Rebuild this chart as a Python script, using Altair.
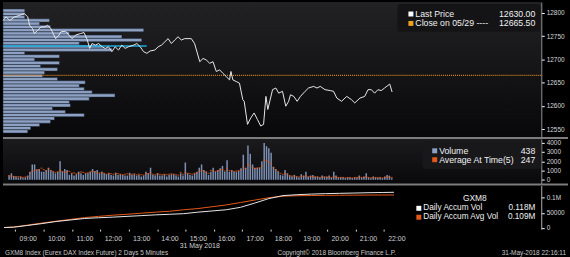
import altair as alt
import pandas as pd

FONT = "Liberation Sans"

# ---------------- data ----------------
price_times = ["08:08","08:14","08:22","08:32","08:43","08:53","09:00","09:04","09:10","09:14",
               "09:21","09:28","09:35","09:42","09:49","09:52","09:59","10:06","10:10","10:20",
               "10:27","10:34","10:41","10:52","10:59","11:06","11:11","11:16","11:23","11:30",
               "11:37","11:44","11:51","11:58","12:05","12:12","12:19","12:26","12:33","12:44",
               "12:51","12:58","13:05","13:12","13:19","13:29","13:36","13:43","13:50","13:57",
               "14:04","14:11","14:18","14:25","14:32","14:39","14:46","14:53","15:04","15:11",
               "15:18","15:25","15:32","15:39","15:46","15:53","16:00","16:07","16:10","16:14",
               "16:21","16:28","16:35","16:38","16:45","16:52","16:59","17:06","17:13","17:19",
               "17:24","17:28","17:38","17:45","17:51","17:59","18:06","18:12","18:16","18:23",
               "18:30","18:37","18:47","18:54","19:05","19:12","19:19","19:29","19:40","19:47",
               "19:54","20:04","20:15","20:25","20:32","20:43","20:53","21:00","21:07","21:14",
               "21:21","21:28","21:35","21:46","21:51"]
price_values = [12783.5,12791.0,12783.5,12791.0,12794.5,12798.0,12791.0,12773.0,12766.0,12755.5,
                12762.5,12769.5,12769.5,12773.0,12766.0,12759.0,12744.5,12752.0,12759.0,12760.5,
                12752.0,12744.5,12752.0,12755.5,12757.5,12741.5,12723.5,12734.0,12730.5,12734.0,
                12727.0,12723.5,12727.0,12716.5,12727.0,12720.0,12730.5,12723.5,12727.0,12730.5,
                12734.0,12727.0,12716.5,12713.0,12718.0,12720.0,12727.0,12730.5,12737.5,12744.5,
                12734.0,12741.5,12748.5,12741.5,12744.5,12744.5,12744.5,12734.0,12695.0,12702.0,
                12698.5,12691.5,12695.0,12674.0,12677.5,12670.0,12663.0,12656.0,12674.0,12656.0,
                12652.5,12649.0,12613.5,12610.0,12560.5,12574.5,12585.0,12571.0,12557.0,12560.5,
                12620.5,12592.5,12635.0,12638.5,12627.5,12631.5,12599.5,12610.0,12624.0,12620.5,
                12610.0,12620.5,12631.5,12638.5,12642.0,12638.5,12642.0,12635.0,12633.0,12631.5,
                12617.0,12610.0,12620.5,12613.5,12606.5,12617.0,12620.5,12635.0,12635.0,12627.5,
                12635.0,12633.0,12638.5,12647.0,12630.0]
last_price = 12630.00
prev_close = 12665.50

volume_first_bar = "08:10"
volume_values = [460,700,420,350,250,350,180,250,460,880,
                 1650,1650,1050,1160,880,880,1050,1300,1050,880,
                 700,880,2000,880,1160,1050,530,700,460,600,
                 880,700,530,700,700,880,1160,950,1050,700,
                 880,700,
                 600,700,530,460,770,530,600,530,460,460,
                 770,530,600,460,530,350,460,880,700,1300,
                 530,460,700,460,460,600,350,530,600,600,
                 460,350,700,460,1860,700,530,460,700,880,
                 1300,1650,
                 1050,880,530,880,1300,880,1050,1230,1500,880,
                 2100,880,1050,880,880,950,1230,2700,1300,3680,
                 2800,1650,1300,1300,1300,2000,3960,3610,3400,2900,
                 1400,1160,880,530,460,1050,700,460,350,530,
                 350,250,
                 600,460,880,350,460,530,350,350,250,460,
                 350,350,460,250,880,460,250,250,250,180,
                 250,250,180,250,250,460,250,350,700,250,
                 180,350,250,250,250,180,350,530,438,180]
avg_at_time_values = [450,400,350,300,350,300,250,300,350,
                      700,900,1000,1100,1050,1250,1100,950,1200,1000,900,800,
                      850,1000,900,800,850,900,700,750,650,700,850,800,700,750,850,900,850,700,750,800,700,
                      600,700,650,600,700,650,600,550,600,650,550,600,650,550,600,550,500,700,650,750,
                      600,550,650,600,550,600,550,600,650,600,550,500,800,600,750,700,650,600,700,750,
                      900,1000,
                      900,850,700,1000,950,900,1000,1050,1100,950,1200,1000,950,900,950,1000,1100,1400,1200,1600,
                      1500,1300,1200,1250,1300,1500,2100,2000,1900,1700,1300,1100,900,700,600,700,600,450,400,400,
                      350,300,
                      400,350,450,300,350,350,300,300,250,300,300,250,300,250,350,300,250,250,250,200,
                      250,250,200,250,250,300,250,250,350,250,200,250,250,200,250,200,250,300,300,247]

accum_times = ["08:10","08:30","09:00","09:30","10:00","10:30","11:00","11:30","12:00","12:30",
               "13:00","13:30","14:00","14:30","15:00","15:30","16:00","16:30","17:00","17:30",
               "18:00","18:30","19:00","19:30","20:00","20:30","21:00","21:30","21:55"]
accum_vol = [1000,2000,8000,14000,21000,26000,31000,33500,35500,38000,
             40500,43000,45000,47000,52000,56000,60000,68000,82000,97000,
             107000,110000,112000,113500,114500,115500,116500,117300,118000]
accum_avg_vol = [1000,3000,9000,16000,22000,28000,34000,38000,42000,45000,
                 48500,52000,55000,60000,64000,70000,76000,84000,92000,100000,
                 105000,106500,107200,107800,108200,108500,108800,109000,109000]

vap_bin_top = [12808,12801,12794,12787,12780,12773,12766,12759,12752,12745,
               12738,12731,12724,12717,12710,12703,12696,12689,12682,12675,
               12668,12661,12654,12647,12640,12633,12626,12619,12612,12605,
               12598,12591,12584,12577,12570,12563,12556,12549]
vap_volume = [440,440,440,940,740,960,2840,1340,2400,2800,
              1540,2000,2200,440,1140,640,1140,760,1100,840,
              800,1100,1660,1540,1640,1800,2260,1740,1340,1360,
              1000,1260,1640,1040,960,740,560,500]
vap_bin_size = 7
vap_highlight_price = 12728.5
vap_highlight_volume = 2900

hour_ticks = list(range(9, 23))
price_ticks = [12550, 12600, 12650, 12700, 12750, 12800]
volume_ticks = [0, 1000, 2000, 3000, 4000]
accum_ticks = [0, 50000, 100000]

top_legend = [("Last Price", "12630.00"), ("Close on 05/29 ----", "12665.50")]
vol_legend = [("Volume", "438"), ("Average At Time(5)", "247")]
acc_title = "GXM8"
acc_legend = [("Daily Accum Vol", "0.118M"), ("Daily Accum Avg Vol", "0.109M")]
date_label = "31 May 2018"
footer_left = "GXM8 Index (Eurex DAX Index Future) 2 Days 5 Minutes"
footer_mid = "Copyright\u00a9 2018 Bloomberg Finance L.P."
footer_right = "31-May-2018 22:16:11"

# ---------------- helpers ----------------
def to_h(s):
    hh, mm = s.split(":")
    return int(hh) + int(mm) / 60.0

W = 543
TOP_H, VOL_H, ACC_H = 136, 45, 44
XDOM = [8.126, 27.11]
xscale = alt.Scale(domain=XDOM, nice=False, zero=False)

WHITE = "#e8e8e8"
ORANGE = "#e5581a"
BLUE = "#8da1c3"
TXT = "#f0f0f0"

one = pd.DataFrame({"a": [0]})

def txt(text, x, y, align="left", size=8.8, color=TXT):
    return alt.Chart(pd.DataFrame({"t": [text]})).mark_text(
        align=align, baseline="middle", fontSize=size, font=FONT, color=color
    ).encode(text="t:N", x=alt.value(x), y=alt.value(y))

def box(x, x2, y, y2, color, radius=0):
    return alt.Chart(one).mark_rect(color=color, cornerRadius=radius).encode(
        x=alt.value(x), x2=alt.value(x2), y=alt.value(y), y2=alt.value(y2))

def right_axis(values, expr=None):
    kw = dict(orient="right", values=values, title=None, grid=False, tickSize=3,
              tickColor="#ffffff", domainColor="#b0b0b0", labelColor="#d8d8d8",
              labelFontSize=6.5, labelFont=FONT, labelPadding=2, labelOverlap=False)
    if expr:
        kw["labelExpr"] = expr
    else:
        kw["format"] = "d"
    return alt.Axis(**kw)

def bg(h, c1, c2):
    grad = alt.Gradient(gradient="linear",
                        stops=[alt.GradientStop(color=c1, offset=0), alt.GradientStop(color=c2, offset=1)],
                        x1=0, x2=0, y1=0, y2=1)
    return alt.Chart(one).mark_rect(color=grad).encode(
        x=alt.value(0), x2=alt.value(W), y=alt.value(0), y2=alt.value(h))

def separator():
    return alt.Chart(one).mark_rule(color="#7d7d7d", strokeWidth=2).encode(
        x=alt.value(0), x2=alt.value(570), y=alt.value(-1))

# ---------------- top panel ----------------
price_df = pd.DataFrame({"h": [to_h(t) for t in price_times], "price": price_values})
vap_df = pd.DataFrame({"top": vap_bin_top, "vol": vap_volume})
vap_df["bottom"] = vap_df["top"] - vap_bin_size
vap_df["base"] = 0
hl_df = pd.DataFrame({"price": [vap_highlight_price], "base": [0], "vol": [vap_highlight_volume]})
close_df = pd.DataFrame({"price": [prev_close]})

pscale = alt.Scale(domain=[12533.6, 12822.8], nice=False, zero=False)
paxis = right_axis(price_ticks)
vapscale = alt.Scale(domain=[0, 10860], nice=False, zero=False)

vap_bars = alt.Chart(vap_df).mark_rect(color=BLUE, stroke="#1a2130", strokeWidth=0.5).encode(
    x=alt.X("base:Q", scale=vapscale, axis=None), x2="vol:Q",
    y=alt.Y("top:Q", scale=pscale, axis=paxis), y2="bottom:Q")
vap_hl = alt.Chart(hl_df).mark_rule(color="#1aa9dc", strokeWidth=1.5).encode(
    x=alt.X("base:Q", scale=vapscale, axis=None), x2="vol:Q",
    y=alt.Y("price:Q", scale=pscale, axis=paxis))
vap_layer = alt.layer(vap_bars, vap_hl)

close_rule = alt.Chart(close_df).mark_rule(color="#d8891f", strokeWidth=1.2, strokeDash=[1, 1]).encode(
    y=alt.Y("price:Q", scale=pscale, axis=paxis))
price_line = alt.Chart(price_df).mark_line(color=WHITE, strokeWidth=1).encode(
    x=alt.X("h:Q", scale=xscale, axis=None),
    y=alt.Y("price:Q", scale=pscale, axis=paxis))

top_leg = [box(398, 542, 2, 30, "#141416", 3),
           box(409, 414, 9.5, 14.5, "#ffffff"), box(409, 414, 19, 24, "#f0a020"),
           txt(top_legend[0][0], 416, 12), txt(top_legend[0][1], 537, 12, "right"),
           txt(top_legend[1][0], 416, 21.5), txt(top_legend[1][1], 537, 21.5, "right")]

top = alt.layer(bg(TOP_H, "#222225", "#08080a"), vap_layer, close_rule, price_line, *top_leg).resolve_scale(
    x="independent").properties(width=W, height=TOP_H)

# ---------------- volume panel ----------------
n = len(volume_values)
t0 = to_h(volume_first_bar)
vol_df = pd.DataFrame({"h": [t0 + 5 * k / 60.0 for k in range(n)],
                       "vol": volume_values, "avg": avg_at_time_values})
vscale = alt.Scale(domain=[-400, 4400], nice=False, zero=False)
vaxis = right_axis(volume_ticks)

vol_bars = alt.Chart(vol_df).mark_bar(size=1.5, color="#7d91b5").encode(
    x=alt.X("h:Q", scale=xscale, axis=None),
    y=alt.Y("vol:Q", scale=vscale, axis=vaxis))
avg_ticks = alt.Chart(vol_df).mark_tick(orient="horizontal", color=ORANGE, size=2, thickness=1.2).encode(
    x=alt.X("h:Q", scale=xscale, axis=None),
    y=alt.Y("avg:Q", scale=vscale, axis=vaxis))

vol_leg = [box(423, 543, 2, 30, "#18181b", 3),
           box(433, 438, 9.5, 14.5, BLUE), box(433, 438, 18.5, 23.5, ORANGE),
           txt(vol_legend[0][0], 440, 12), txt(vol_legend[0][1], 537, 12, "right"),
           txt(vol_legend[1][0], 440, 21), txt(vol_legend[1][1], 537, 21, "right")]

vol = alt.layer(bg(VOL_H, "#1b1b1e", "#09090b"), separator(), vol_bars, avg_ticks, *vol_leg).properties(
    width=W, height=VOL_H)

# ---------------- accumulated volume panel ----------------
acc_df = pd.DataFrame({"h": [to_h(t) for t in accum_times], "vol": accum_vol, "avg": accum_avg_vol})
ascale = alt.Scale(domain=[-4300, 140500], nice=False, zero=False)
aaxis = right_axis(accum_ticks, "datum.value == 100000 ? '0.1M' : format(datum.value, 'd')")
xaxis = alt.Axis(values=hour_ticks,
                 labelExpr="(datum.value < 10 ? '0' : '') + datum.value + ':00'",
                 tickOffset=-12.5, labelOffset=12.5, domain=False, grid=False,
                 tickSize=2, tickColor="#dddddd", labelColor="#d0d0d0", labelFontSize=7,
                 labelFont=FONT, labelPadding=3, labelOverlap=False, labelFlush=False,
                 title=date_label, titleX=198, titleY=13, titleFontSize=7, titleFont=FONT,
                 titleFontWeight="normal", titleColor="#d0d0d0")

acc_avg_line = alt.Chart(acc_df).mark_line(color=ORANGE, strokeWidth=1).encode(
    x=alt.X("h:Q", scale=xscale, axis=xaxis),
    y=alt.Y("avg:Q", scale=ascale, axis=aaxis))
acc_line = alt.Chart(acc_df).mark_line(color=WHITE, strokeWidth=1).encode(
    x=alt.X("h:Q", scale=xscale, axis=xaxis),
    y=alt.Y("vol:Q", scale=ascale, axis=aaxis))

acc_leg = [txt(acc_title, 476, 13, "center", 8.5),
           box(417, 422, 20.5, 25.5, "#ffffff"), box(417, 422, 29.5, 34.5, ORANGE),
           txt(acc_legend[0][0], 424, 23, size=8.3), txt(acc_legend[0][1], 537, 23, "right", 8.3),
           txt(acc_legend[1][0], 424, 32, size=8.3), txt(acc_legend[1][1], 537, 32, "right", 8.3)]

footer = [txt(footer_left, 2, 68, "left", 6.5, "#c8c8c8"),
          txt(footer_mid, 277, 68, "left", 6.5, "#c8c8c8"),
          txt(footer_right, 568, 68, "right", 6.5, "#c8c8c8")]

acc = alt.layer(separator(), acc_avg_line, acc_line, *acc_leg, *footer).properties(width=W, height=ACC_H)

chart = alt.vconcat(top, vol, acc, spacing=2, bounds="flush").properties(
    padding=0, background="#000000"
).configure_view(stroke="transparent")

chart.save("out.html", embed_options={"renderer": "svg", "actions": False})
